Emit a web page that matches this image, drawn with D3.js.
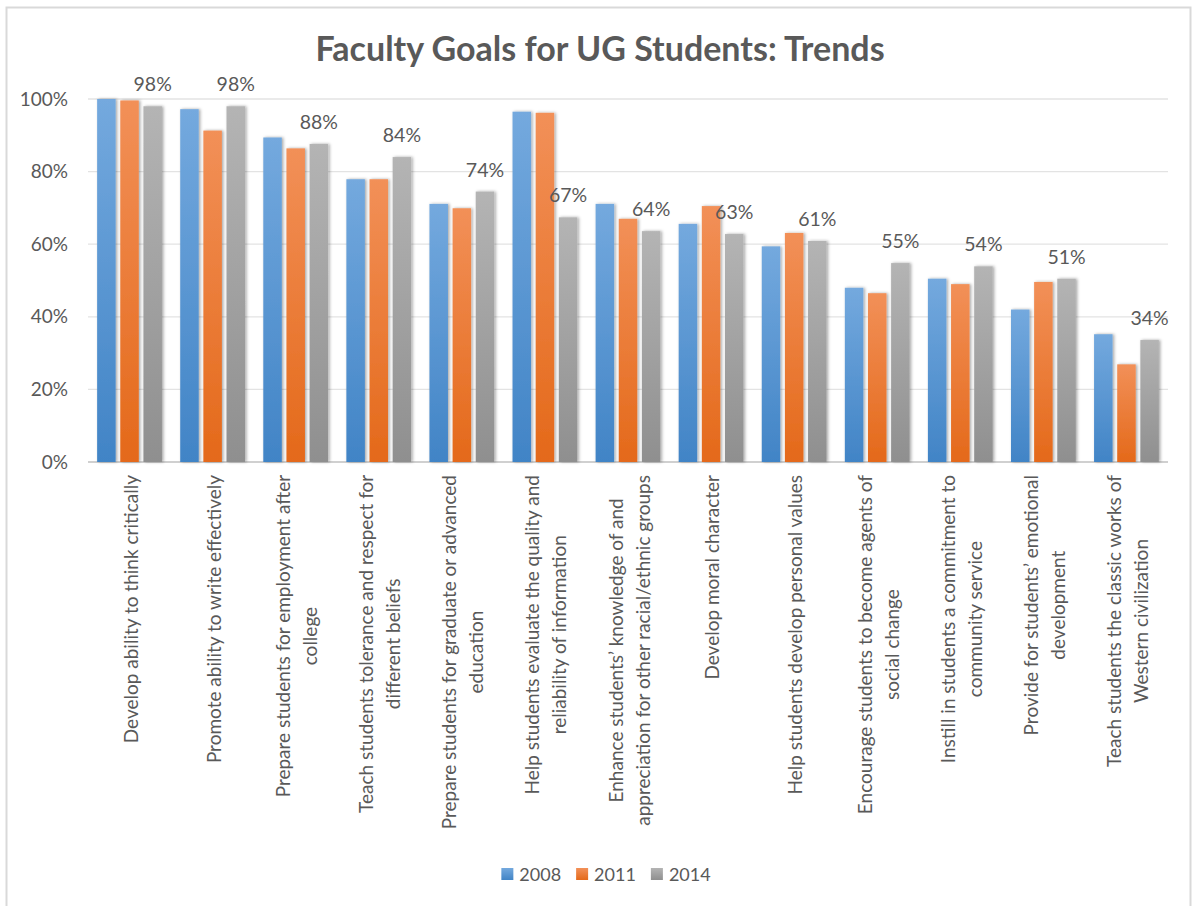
<!DOCTYPE html>
<html>
<head>
<meta charset="utf-8">
<script src="https://cdn.jsdelivr.net/npm/d3@7"></script>
<style>
  html, body { margin: 0; padding: 0; background: #fff; }
  svg { display: block; font-family: Lato, "Open Sans", sans-serif; }
</style>
</head>
<body>
<svg id="chart" width="1195" height="906"></svg>
<script>
  const categories = [
    ["Develop ability to think critically"],
    ["Promote ability to write effectively"],
    ["Prepare students for employment after", "college"],
    ["Teach students tolerance and respect for", "different beliefs"],
    ["Prepare students for graduate or advanced", "education"],
    ["Help students evaluate the quality and", "reliability of information"],
    ["Enhance students\u2019 knowledge of and", "appreciation for other racial/ethnic groups"],
    ["Develop moral character"],
    ["Help students develop personal values"],
    ["Encourage students to become agents of", "social change"],
    ["Instill in students a commitment to", "community service"],
    ["Provide for students\u2019 emotional", "development"],
    ["Teach students the classic works of", "Western civilization"],
  ];
  const years = ["2008", "2011", "2014"];
  const values2008 = [100, 97.2, 89.4, 77.9, 71.1, 96.5, 71.1, 65.6, 59.4, 48.0, 50.5, 42.0, 35.2];
  const values2011 = [99.6, 91.3, 86.4, 77.9, 69.9, 96.2, 67.0, 70.5, 63.1, 46.5, 49.0, 49.6, 26.9];
  const values2014 = [98, 98, 87.6, 84, 74.5, 67.4, 63.6, 62.8, 60.9, 54.8, 53.9, 50.5, 33.6];
  const labels2014 = ["98%", "98%", "88%", "84%", "74%", "67%", "64%", "63%", "61%", "55%", "54%", "51%", "34%"];
  const yTicks = [0, 20, 40, 60, 80, 100];

  const series = [values2008, values2011, values2014];
  const colors = [
    { top: "#74a9de", bottom: "#4184c6" },
    { top: "#f29058", bottom: "#e4691a" },
    { top: "#b4b4b4", bottom: "#8f8f8f" },
  ];
  const textColor = "#595959";

  const margin = { left: 88, right: 1168, top: 99, bottom: 462 };
  const svg = d3.select("#chart");
  const defs = svg.append("defs");

  colors.forEach((c, i) => {
    const g = defs.append("linearGradient").attr("id", "grad" + i)
      .attr("x1", 0).attr("y1", 0).attr("x2", 0).attr("y2", 1);
    g.append("stop").attr("offset", "0%").attr("stop-color", c.top);
    g.append("stop").attr("offset", "100%").attr("stop-color", c.bottom);
  });
  const shadow = defs.append("filter").attr("id", "shadow")
    .attr("x", "-30%").attr("y", "-5%").attr("width", "160%").attr("height", "110%");
  shadow.append("feDropShadow").attr("dx", 1.5).attr("dy", 0).attr("stdDeviation", 1.6)
    .attr("flood-color", "#000").attr("flood-opacity", 0.35);

  // chart frame
  svg.append("rect").attr("x", 6.5).attr("y", 7.5).attr("width", 1184).attr("height", 910)
    .attr("fill", "none").attr("stroke", "#d9d9d9").attr("stroke-width", 2);

  svg.append("text").attr("x", 600).attr("y", 61).attr("text-anchor", "middle")
    .attr("font-size", 34).attr("font-weight", "bold").attr("fill", textColor)
    .text("Faculty Goals for UG Students: Trends");

  const x0 = d3.scaleBand().domain(d3.range(categories.length))
    .range([margin.left, margin.right]).paddingInner(0.22).paddingOuter(0.11);
  const x1 = d3.scaleBand().domain(d3.range(years.length))
    .range([0, x0.bandwidth()]).paddingInner(0.2);
  const y = d3.scaleLinear().domain([0, 100]).range([margin.bottom, margin.top]);

  const grid = svg.append("g");
  grid.selectAll("line").data(yTicks).join("line")
    .attr("x1", margin.left).attr("x2", margin.right)
    .attr("y1", (d) => y(d)).attr("y2", (d) => y(d))
    .attr("stroke", (d) => (d === 0 ? "#d0d0d0" : "#e3e3e3"))
    .attr("stroke-width", (d) => (d === 0 ? 2 : 1.3));

  const yAxis = d3.axisLeft(y).tickValues(yTicks).tickFormat((d) => d + "%").tickSize(0).tickPadding(0);
  const yg = svg.append("g").attr("transform", `translate(${margin.left - 20},0)`).call(yAxis);
  yg.select(".domain").remove();
  yg.selectAll("text").attr("font-size", 19).attr("fill", textColor).attr("font-family", "Lato, sans-serif");

  const groups = svg.append("g").selectAll("g").data(categories).join("g")
    .attr("transform", (d, i) => `translate(${x0(i)},0)`);
  groups.selectAll("rect").data((d, i) => series.map((s, k) => ({ k, v: s[i] }))).join("rect")
    .attr("x", (d) => x1(d.k)).attr("width", x1.bandwidth())
    .attr("y", (d) => y(d.v)).attr("height", (d) => y(0) - y(d.v))
    .attr("fill", (d) => `url(#grad${d.k})`).attr("filter", "url(#shadow)");

  groups.append("text")
    .attr("x", x1(2) + x1.bandwidth() / 2)
    .attr("y", (d, i) => y(values2014[i]) - 15)
    .attr("text-anchor", "middle").attr("font-size", 19.5).attr("fill", textColor)
    .text((d, i) => labels2014[i]);

  // category labels, rotated
  const lineH = 27;
  const lab = svg.append("g").selectAll("text").data(categories).join("text")
    .attr("font-size", 19).attr("fill", textColor).attr("text-anchor", "middle")
    .attr("dominant-baseline", "central");
  lab.each(function (lines, i) {
    const t = d3.select(this);
    const spans = lines.map((l) => t.append("tspan").text(l));
    const L = d3.max(spans, (s) => s.node().getComputedTextLength());
    const cx = x0(i) + x0.bandwidth() / 2;
    t.attr("transform", `translate(${cx},${margin.bottom + 13}) rotate(-90)`);
    spans.forEach((s, k) => {
      s.attr("x", -L / 2).attr("y", (k - (lines.length - 1) / 2) * lineH);
    });
  });

  // legend
  const legend = svg.append("g");
  let lx = 0;
  years.forEach((yr, i) => {
    const g = legend.append("g").attr("transform", `translate(${lx},0)`);
    g.append("rect").attr("x", 0).attr("y", -6).attr("width", 12).attr("height", 12)
      .attr("fill", `url(#grad${i})`);
    const t = g.append("text").attr("x", 18).attr("y", 0).attr("dominant-baseline", "central")
      .attr("font-size", 18).attr("fill", textColor).text(yr);
    lx += 18 + t.node().getComputedTextLength() + 15;
  });
  const total = lx - 15;
  legend.attr("transform", `translate(${600 - total / 2 + 6},874)`);
</script>
</body>
</html>
